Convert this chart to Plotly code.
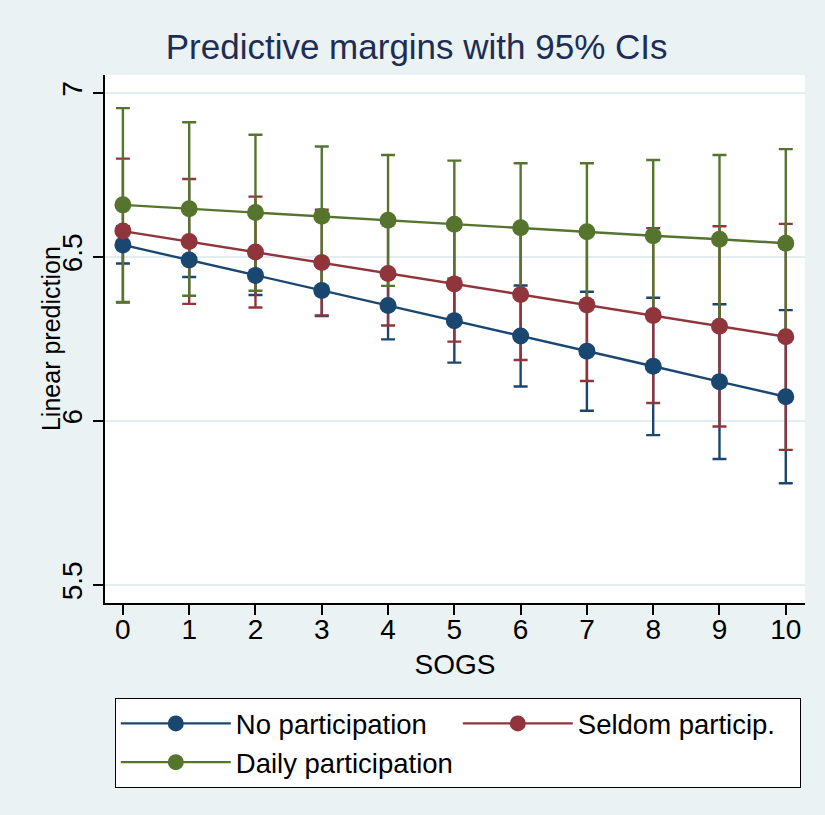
import plotly.graph_objects as go

sogs = [0, 1, 2, 3, 4, 5, 6, 7, 8, 9, 10]
x_ticks = sogs
y_ticks = [5.5, 6, 6.5, 7]
y_tick_labels = ["5.5", "6", "6.5", "7"]

series_names = ["No participation", "Seldom particip.", "Daily participation"]

no_part = [6.537, 6.491, 6.444, 6.398, 6.352, 6.306, 6.259, 6.213, 6.167, 6.120, 6.074]
no_part_lo = [6.480, 6.439, 6.384, 6.320, 6.249, 6.178, 6.105, 6.031, 5.957, 5.884, 5.810]
no_part_hi = [6.594, 6.543, 6.504, 6.476, 6.455, 6.434, 6.413, 6.394, 6.376, 6.356, 6.338]

seldom = [6.579, 6.547, 6.515, 6.483, 6.450, 6.418, 6.386, 6.354, 6.322, 6.289, 6.257]
seldom_lo = [6.361, 6.357, 6.346, 6.322, 6.291, 6.242, 6.186, 6.122, 6.055, 5.983, 5.912]
seldom_hi = [6.800, 6.738, 6.684, 6.644, 6.609, 6.594, 6.586, 6.586, 6.588, 6.594, 6.601]

daily = [6.659, 6.647, 6.636, 6.624, 6.612, 6.600, 6.589, 6.577, 6.565, 6.554, 6.542]
daily_lo = [6.363, 6.382, 6.397, 6.411, 6.412, 6.406, 6.392, 6.368, 6.334, 6.297, 6.255]
daily_hi = [6.954, 6.911, 6.873, 6.837, 6.811, 6.794, 6.786, 6.786, 6.796, 6.811, 6.829]

colors = ["#1A476F", "#90353B", "#55752F"]

series = [
    (no_part, no_part_lo, no_part_hi),
    (seldom, seldom_lo, seldom_hi),
    (daily, daily_lo, daily_hi),
]

fig = go.Figure()

# CI bars first (blue, red, green)
for (y, lo, hi), c in zip(series, colors):
    fig.add_trace(go.Scatter(
        x=sogs, y=y, mode="markers",
        marker=dict(size=1, color="rgba(0,0,0,0)"),
        error_y=dict(type="data", symmetric=False,
                     array=[h - m for h, m in zip(hi, y)],
                     arrayminus=[m - l for m, l in zip(y, lo)],
                     color=c, thickness=2.4, width=7),
        showlegend=False, hoverinfo="skip",
    ))

# Lines and markers on top
for (y, lo, hi), c, name in zip(series, colors, series_names):
    fig.add_trace(go.Scatter(
        x=sogs, y=y, mode="lines+markers", name=name,
        line=dict(color=c, width=2.4),
        marker=dict(color=c, size=17),
    ))

font_family = "Liberation Sans, Arial, sans-serif"

fig.update_layout(
    width=825, height=815,
    paper_bgcolor="#EAF2F3",
    plot_bgcolor="white",
    margin=dict(l=105, r=20, t=75, b=212, autoexpand=False),
    font=dict(family=font_family, color="black", size=28),
    title=dict(text="Predictive margins with 95% CIs",
               font=dict(size=35, color="#1E2D53", family=font_family),
               x=0.505, xanchor="center", xref="container",
               y=1 - 47 / 815, yanchor="middle", yref="container"),
    showlegend=True,
    legend=dict(
        orientation="h",
        x=0.014, xanchor="left",
        y=-0.18, yanchor="top",
        bgcolor="white", bordercolor="black", borderwidth=1,
        font=dict(size=27.5, family=font_family, color="black"),
        itemwidth=110,
        entrywidthmode="pixels", entrywidth=217,
    ),
    annotations=[dict(
        text="Linear prediction", textangle=-90,
        xref="paper", yref="paper", x=-0.0771, y=0.5,
        xanchor="center", yanchor="middle", showarrow=False,
        font=dict(size=25, color="black", family=font_family),
    )],
)

fig.update_xaxes(
    range=[-0.27, 10.29],
    tickmode="array", tickvals=x_ticks, ticktext=[str(v) for v in x_ticks],
    ticks="outside", ticklen=10, tickwidth=1.5, tickcolor="black",
    showline=True, linecolor="black", linewidth=1.5,
    showgrid=False, zeroline=False,
    tickfont=dict(size=28),
    ticklabelstandoff=-9,
    title=dict(text="SOGS", font=dict(size=28), standoff=10),
)

fig.update_yaxes(
    range=[5.445, 7.055],
    tickmode="array", tickvals=y_ticks, ticktext=y_tick_labels,
    tickangle=-90,
    ticks="outside", ticklen=10, tickwidth=1.5, tickcolor="black",
    showline=True, linecolor="black", linewidth=1.5,
    showgrid=True, gridcolor="#E3EDEF", gridwidth=1.5,
    zeroline=False,
    tickfont=dict(size=28),
    ticklabelstandoff=0,
)

fig.write_html("out.html", config={"displayModeBar": False},
               post_script="document.body.style.margin='0';")
